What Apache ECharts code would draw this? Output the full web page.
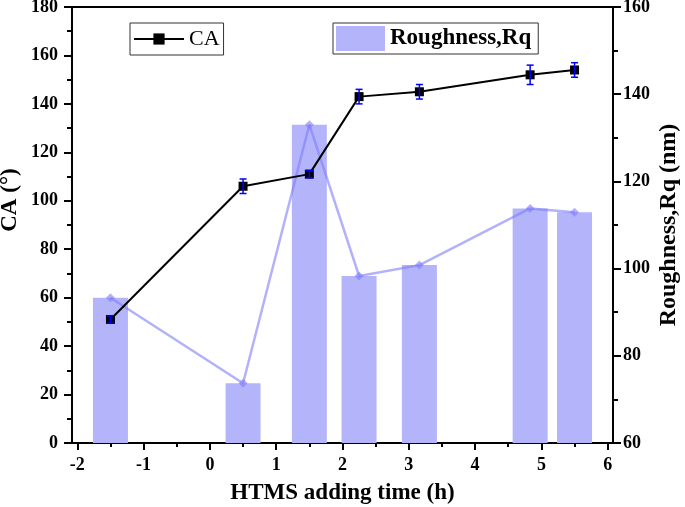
<!DOCTYPE html>
<html>
<head>
<meta charset="utf-8">
<script src="https://cdn.jsdelivr.net/npm/echarts@6/dist/echarts.min.js"></script>
<style>html,body{margin:0;padding:0;background:#fff}#c{width:685px;height:507px}</style>
</head>
<body>
<div id="c"></div>
<script>
// ---- data ----
const times = [-1.5, 0.5, 1.5, 2.25, 3.16, 4.83, 5.5];
const caValues = [51, 106, 111, 143, 145, 152, 154];
const caErrors = [1.5, 3, 1.5, 3, 3, 4, 3];
const rqValues = [93.3, 73.7, 133, 98.3, 100.8, 113.8, 112.9];
const xTickLabels = [-2, -1, 0, 1, 2, 3, 4, 5, 6];
const xMinorTicks = [-1.5, -0.5, 0.5, 1.5, 2.5, 3.5, 4.5, 5.5];

const FONT = "'Liberation Serif','Times New Roman',serif";
const chart = echarts.init(document.getElementById('c'));

const caData = times.map((t, i) => [t, caValues[i]]);
const rqData = times.map((t, i) => [t, rqValues[i]]);
const errData = times.map((t, i) => [t, caValues[i] - caErrors[i], caValues[i] + caErrors[i]]);

chart.setOption({
  animation: false,
  backgroundColor: '#fff',
  grid: { left: 72, right: 72, top: 7, bottom: 64, containLabel: false, outerBoundsMode: 'none' },
  legend: [
    {
      data: ['CA'], left: 130, top: 23, orient: 'horizontal',
      selectedMode: false, borderColor: '#333', borderWidth: 1,
      padding: [5, 4, 5, 3], itemWidth: 50, itemHeight: 14,
      textStyle: { fontFamily: FONT, fontSize: 22, color: '#000' }
    },
    {
      data: [{ name: 'Roughness,Rq', icon: 'rect' }], left: 333, top: 23,
      selectedMode: false, borderColor: '#333', borderWidth: 1,
      padding: [3, 7, 3, 3], itemWidth: 49, itemHeight: 25,
      textStyle: { fontFamily: FONT, fontSize: 23, fontWeight: 'bold', color: '#000' }
    }
  ],
  xAxis: [
    {
      type: 'value', min: -2.08, max: 6.08, position: 'bottom',
      name: 'HTMS adding time (h)', nameLocation: 'middle', nameGap: 39, nameMoveOverlap: false,
      nameTextStyle: { fontFamily: FONT, fontSize: 23, fontWeight: 'bold', color: '#000' },
      axisLine: { show: true, onZero: false, lineStyle: { color: '#000', width: 2 } },
      axisTick: { show: true, inside: false, length: 7, customValues: xTickLabels, lineStyle: { color: '#000', width: 2 } },
      axisLabel: { customValues: xTickLabels, margin: 13, fontFamily: FONT, fontSize: 18, fontWeight: 'bold', color: '#000' },
      splitLine: { show: false }
    },
    {
      type: 'value', min: -2.08, max: 6.08, position: 'bottom',
      axisLine: { show: false, onZero: false },
      axisTick: { show: true, inside: false, length: 4, customValues: xMinorTicks, lineStyle: { color: '#000', width: 2 } },
      axisLabel: { show: false },
      splitLine: { show: false }
    },
    {
      type: 'value', min: -2.08, max: 6.08, position: 'top',
      axisLine: { show: true, onZero: false, lineStyle: { color: '#000', width: 2 } },
      axisTick: { show: false }, axisLabel: { show: false }, splitLine: { show: false }
    }
  ],
  yAxis: [
    {
      type: 'value', min: 0, max: 180, interval: 20, position: 'left',
      name: 'CA (°)', nameLocation: 'middle', nameGap: 50, nameRotate: 90, nameMoveOverlap: false,
      nameTextStyle: { fontFamily: FONT, fontSize: 23, fontWeight: 'bold', color: '#000', padding: [0, 0, 0, 50] },
      axisLine: { show: true, onZero: false, lineStyle: { color: '#000', width: 2 } },
      axisTick: { show: true, inside: false, length: 8, lineStyle: { color: '#000', width: 2 } },
      minorTick: { show: true, splitNumber: 2, length: 5, lineStyle: { color: '#000', width: 2 } },
      axisLabel: { margin: 14, fontFamily: FONT, fontSize: 18, fontWeight: 'bold', color: '#000' },
      splitLine: { show: false }
    },
    {
      type: 'value', min: 60, max: 160, interval: 20, position: 'right',
      name: 'Roughness,Rq (nm)', nameLocation: 'middle', nameGap: 44, nameRotate: 90, nameMoveOverlap: false,
      nameTextStyle: { fontFamily: FONT, fontSize: 24, fontWeight: 'bold', color: '#000' },
      axisLine: { show: true, onZero: false, lineStyle: { color: '#000', width: 2 } },
      axisTick: { show: true, inside: false, length: 8, lineStyle: { color: '#000', width: 2 } },
      minorTick: { show: true, splitNumber: 2, length: 5, lineStyle: { color: '#000', width: 2 } },
      axisLabel: { margin: 10, fontFamily: FONT, fontSize: 18, fontWeight: 'bold', color: '#000' },
      splitLine: { show: false }
    }
  ],
  series: [
    {
      name: 'Roughness,Rq', type: 'bar', xAxisIndex: 0, yAxisIndex: 1,
      data: rqData, barWidth: 35, clip: true,
      itemStyle: { color: '#b4b4fb' }, z: 1
    },
    {
      name: 'RqLine', type: 'line', xAxisIndex: 0, yAxisIndex: 1,
      data: rqData, symbol: 'diamond', symbolSize: 9,
      lineStyle: { color: 'rgba(125,125,250,0.6)', width: 2.5 },
      itemStyle: { color: 'rgba(125,125,250,0.6)' }, z: 2
    },
    {
      name: 'CA', type: 'line', xAxisIndex: 0, yAxisIndex: 0,
      data: caData, symbol: 'rect', symbolSize: 9,
      lineStyle: { color: '#000', width: 2 },
      itemStyle: { color: '#000' }, z: 3
    },
    {
      name: 'err', type: 'custom', xAxisIndex: 0, yAxisIndex: 0, z: 4,
      data: errData,
      renderItem: function (params, api) {
        const x = api.value(0);
        const lo = api.coord([x, api.value(1)]);
        const hi = api.coord([x, api.value(2)]);
        const hw = 3.5;
        const st = { stroke: '#0000ff', lineWidth: 1.5, fill: null };
        return {
          type: 'group',
          children: [
            { type: 'line', shape: { x1: lo[0], y1: lo[1], x2: hi[0], y2: hi[1] }, style: st },
            { type: 'line', shape: { x1: lo[0] - hw, y1: lo[1], x2: lo[0] + hw, y2: lo[1] }, style: st },
            { type: 'line', shape: { x1: hi[0] - hw, y1: hi[1], x2: hi[0] + hw, y2: hi[1] }, style: st }
          ]
        };
      }
    }
  ]
});
</script>
</body>
</html>
